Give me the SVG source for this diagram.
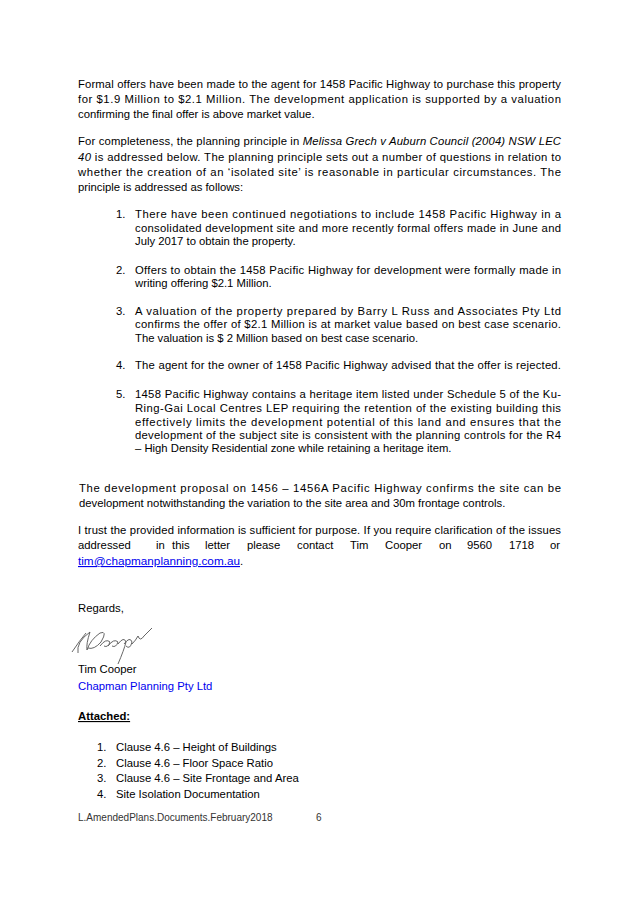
<svg xmlns="http://www.w3.org/2000/svg" width="638" height="900" viewBox="0 0 638 900">
<style>
text{font-family:"Liberation Sans",Arial,sans-serif;font-size:11.3px;fill:#000}
.b{fill:#0000ee}
.f{font-size:10px;fill:#333}
</style>
<rect width="638" height="900" fill="#fff"/>
<g id="body">
<text x="78" y="88" textLength="483" lengthAdjust="spacing">Formal offers have been made to the agent for 1458 Pacific Highway to purchase this property</text>
<text x="78" y="103" textLength="483" lengthAdjust="spacing">for $1.9 Million to $2.1 Million. The development application is supported by a valuation</text>
<text x="78" y="118">confirming the final offer is above market value.</text>

<text x="78" y="145" textLength="483" lengthAdjust="spacing">For completeness, the planning principle in <tspan font-style="italic">Melissa Grech v Auburn Council (2004) NSW LEC</tspan></text>
<text x="78" y="161" textLength="483" lengthAdjust="spacing"><tspan font-style="italic">40</tspan> is addressed below. The planning principle sets out a number of questions in relation to</text>
<text x="78" y="176" textLength="483" lengthAdjust="spacing">whether the creation of an ‘isolated site’ is reasonable in particular circumstances. The</text>
<text x="78" y="191">principle is addressed as follows:</text>

<text x="116" y="218">1.</text>
<text x="135" y="218" textLength="426" lengthAdjust="spacing">There have been continued negotiations to include 1458 Pacific Highway in a</text>
<text x="135" y="232" textLength="426" lengthAdjust="spacing">consolidated development site and more recently formal offers made in June and</text>
<text x="135" y="245">July 2017 to obtain the property.</text>

<text x="116" y="274">2.</text>
<text x="135" y="274" textLength="426" lengthAdjust="spacing">Offers to obtain the 1458 Pacific Highway for development were formally made in</text>
<text x="135" y="287">writing offering $2.1 Million.</text>

<text x="116" y="315">3.</text>
<text x="135" y="315" textLength="426" lengthAdjust="spacing">A valuation of the property prepared by Barry L Russ and Associates Pty Ltd</text>
<text x="135" y="328" textLength="426" lengthAdjust="spacing">confirms the offer of $2.1 Million is at market value based on best case scenario.</text>
<text x="135" y="342">The valuation is $ 2 Million based on best case scenario.</text>

<text x="116" y="369">4.</text>
<text x="135" y="369" textLength="426" lengthAdjust="spacing">The agent for the owner of 1458 Pacific Highway advised that the offer is rejected.</text>

<text x="116" y="398">5.</text>
<text x="135" y="398" textLength="426" lengthAdjust="spacing">1458 Pacific Highway contains a heritage item listed under Schedule 5 of the Ku-</text>
<text x="135" y="412" textLength="426" lengthAdjust="spacing">Ring-Gai Local Centres LEP requiring the retention of the existing building this</text>
<text x="135" y="426" textLength="426" lengthAdjust="spacing">effectively limits the development potential of this land and ensures that the</text>
<text x="135" y="439" textLength="426" lengthAdjust="spacing">development of the subject site is consistent with the planning controls for the R4</text>
<text x="135" y="452">– High Density Residential zone while retaining a heritage item.</text>

<text x="79" y="492" textLength="482" lengthAdjust="spacing">The development proposal on 1456 – 1456A Pacific Highway confirms the site can be</text>
<text x="79" y="507">development notwithstanding the variation to the site area and 30m frontage controls.</text>

<text x="78" y="534" textLength="483" lengthAdjust="spacing">I trust the provided information is sufficient for purpose. If you require clarification of the issues</text>
<text y="549"><tspan x="78">addressed</tspan><tspan x="156">in</tspan><tspan x="172">this</tspan><tspan x="205">letter</tspan><tspan x="247">please</tspan><tspan x="297">contact</tspan><tspan x="350">Tim</tspan><tspan x="385">Cooper</tspan><tspan x="439">on</tspan><tspan x="467">9560</tspan><tspan x="509">1718</tspan><tspan x="550">or</tspan></text>
<text x="78" y="565" class="b" text-decoration="underline" textLength="162" lengthAdjust="spacingAndGlyphs">tim@chapmanplanning.com.au</text><text x="240" y="565">.</text>

<text x="78" y="612">Regards,</text>
</g>
<g id="signature" fill="none" stroke="#555" stroke-width="0.9">
<path d="M72 652 Q80 640 86 633 M78 653 Q76 642 90 632 Q86 644 87 650 Q90 640 100 633 Q108 630 101 642 Q94 650 88 648 M100 646 Q106 638 110 642 Q108 648 104 646 M108 646 Q114 638 118 642 Q116 648 112 646 M118 644 Q124 636 126 642 Q124 650 118 664 M124 644 Q130 636 132 642 Q130 650 126 646 M132 644 Q136 640 138 636 Q140 642 144 636 Q148 632 152 628"/>
</g>
<g id="signoff">
<text x="78" y="673">Tim Cooper</text>
<text x="78" y="690" class="b">Chapman Planning Pty Ltd</text>
<text x="78" y="720" font-weight="bold" text-decoration="underline">Attached:</text>
<text x="97" y="751">1.</text><text x="116" y="751">Clause 4.6 – Height of Buildings</text>
<text x="97" y="767">2.</text><text x="116" y="767">Clause 4.6 – Floor Space Ratio</text>
<text x="97" y="782">3.</text><text x="116" y="782">Clause 4.6 – Site Frontage and Area</text>
<text x="97" y="798">4.</text><text x="116" y="798">Site Isolation Documentation</text>
<text x="78" y="821" class="f">L.AmendedPlans.Documents.February2018</text>
<text x="316" y="821" class="f">6</text>
</g>
</svg>
